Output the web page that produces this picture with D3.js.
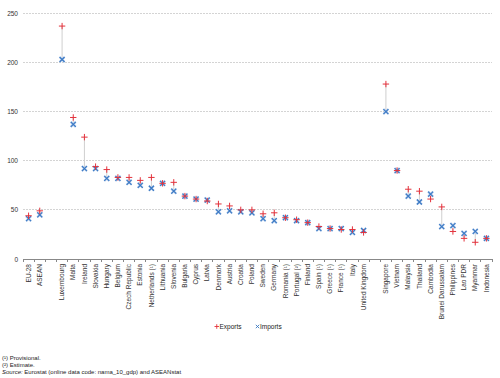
<!DOCTYPE html>
<html>
<head>
<meta charset="utf-8">
<script src="https://cdn.jsdelivr.net/npm/d3@7/dist/d3.min.js"></script>
<style>
  body { margin: 0; background: #fff; }
  svg { display: block; font-family: "Liberation Sans", Arial, sans-serif; }
</style>
</head>
<body>
<svg id="chart" width="500" height="378"></svg>
<script>
const categories = ["EU-28", "ASEAN", "", "Luxembourg", "Malta", "Ireland", "Slovakia", "Hungary", "Belgium",
  "Czech Republic", "Estonia", "Netherlands (¹)", "Lithuania", "Slovenia", "Bulgaria", "Cyprus", "Latvia",
  "Denmark", "Austria", "Croatia", "Poland", "Sweden", "Germany", "Romania (¹)", "Portugal (²)", "Finland",
  "Spain (¹)", "Greece (¹)", "France (¹)", "Italy", "United Kingdom", " ", "Singapore", "Vietnam", "Malaysia",
  "Thailand", "Cambodia", "Brunei Darussalam", "Philippines", "Lao PDR", "Myanmar", "Indonesia"];
const exportsVals = [44, 49, null, 237, 144, 124, 94, 91, 83, 83, 80, 83, 77, 78, 64, 61, 59,
  56, 54, 50, 50, 46, 47, 42, 40, 37, 33, 31, 30, 30, 27, null, 178, 90, 71, 69, 61, 53, 28, 21, 17, 21];
const importsVals = [41, 45, null, 203, 137, 92, 92, 82, 82, 78, 75, 72, 77, 69, 64, 61, 60,
  48, 49, 48, 47, 41, 39, 42, 39, 37, 31, 31, 31, 27, 29, null, 150, 90, 64, 58, 66, 33, 34, 26, 28, 21];
const yTicks = [0, 50, 100, 150, 200, 250];
const seriesNames = ["Exports", "Imports"];
const footnotes = ["(¹) Provisional.", "(²) Estimate."];
const sourceText = "Eurostat (online data code: nama_10_gdp) and ASEANstat";

const svg = d3.select("#chart");
const x = d3.scaleBand().domain(categories).range([23, 492]).padding(0);
const y = d3.scaleLinear().domain([0, 250]).range([259, 13.3]);

const exportColor = "#e3323c";
const importColor = "#3a78c3";

// gridlines
svg.append("g").selectAll("line").data(yTicks.filter(d => d > 0)).join("line")
  .attr("x1", 23).attr("x2", 492)
  .attr("y1", d => y(d)).attr("y2", d => y(d))
  .attr("stroke", "#d4d4d4").attr("stroke-width", 1).attr("stroke-dasharray", "2,1")
  .attr("shape-rendering", "crispEdges");

// y axis labels
const yAxis = d3.axisLeft(y).tickValues(yTicks).tickSize(0).tickPadding(5);
const gy = svg.append("g").attr("transform", "translate(23,0)").call(yAxis);
gy.select(".domain").remove();
gy.selectAll("text").attr("font-size", 6.5).attr("fill", "#333").attr("font-family", "Liberation Sans, Arial, sans-serif");

// x axis
const gx = svg.append("g").attr("transform", `translate(0,${y(0)})`)
  .call(d3.axisBottom(x).tickSize(0).tickFormat(""));
gx.select(".domain").attr("stroke", "#888").attr("shape-rendering", "crispEdges");
gx.selectAll(".tick").remove();
// boundary ticks
const bounds = categories.map(c => x(c)).concat([x(categories[categories.length - 1]) + x.bandwidth()]);
gx.append("g").selectAll("line").data(bounds).join("line")
  .attr("x1", d => d).attr("x2", d => d).attr("y1", 0).attr("y2", 3)
  .attr("stroke", "#888").attr("shape-rendering", "crispEdges");
// labels
gx.append("g").selectAll("text").data(categories).join("text")
  .attr("transform", d => `translate(${x(d) + x.bandwidth() / 2 + 2.2},5) rotate(-90)`)
  .attr("text-anchor", "end")
  .attr("font-size", 6.5).attr("fill", "#333")
  .text(d => d.trim());

const data = categories.map((c, i) => ({ c, e: exportsVals[i], m: importsVals[i] })).filter(d => d.e != null);

// range lines
svg.append("g").selectAll("line").data(data).join("line")
  .attr("x1", d => x(d.c) + x.bandwidth() / 2).attr("x2", d => x(d.c) + x.bandwidth() / 2)
  .attr("y1", d => y(d.e)).attr("y2", d => y(d.m))
  .attr("stroke", "#cfcfcf").attr("stroke-width", 1);

// import markers (x)
const s = 2.5;
const imp = svg.append("g").selectAll("g").data(data).join("g")
  .attr("transform", d => `translate(${x(d.c) + x.bandwidth() / 2},${y(d.m)})`);
imp.append("path").attr("d", `M${-s},${-s}L${s},${s}M${-s},${s}L${s},${-s}`)
  .attr("stroke", "#b5cdec").attr("stroke-width", 2.2).attr("fill", "none");
imp.append("path").attr("d", `M${-s},${-s}L${s},${s}M${-s},${s}L${s},${-s}`)
  .attr("stroke", importColor).attr("stroke-width", 1.1).attr("fill", "none");

// export markers (+)
const p = 3.2;
svg.append("g").selectAll("path").data(data).join("path")
  .attr("d", d => {
    const cx = x(d.c) + x.bandwidth() / 2, cy = y(d.e);
    return `M${cx - p},${cy}L${cx + p},${cy}M${cx},${cy - p}L${cx},${cy + p}`;
  })
  .attr("stroke", exportColor).attr("stroke-width", 1).attr("fill", "none");

// legend
const lg = svg.append("g").attr("font-size", 6.5).attr("fill", "#222");
lg.append("path").attr("d", "M214.5,326.5L219,326.5M216.75,324.2L216.75,328.8")
  .attr("stroke", exportColor).attr("stroke-width", 0.9);
lg.append("text").attr("x", 219.5).attr("y", 329).text(seriesNames[0]);
lg.append("path").attr("d", "M255.8,324.8L259.2,328.2M255.8,328.2L259.2,324.8")
  .attr("stroke", importColor).attr("stroke-width", 0.9);
lg.append("text").attr("x", 260).attr("y", 329).text(seriesNames[1]);

// footnotes
const fn = svg.append("g").attr("font-size", 6).attr("fill", "#222");
fn.append("text").attr("x", 2).attr("y", 360).text(footnotes[0]);
fn.append("text").attr("x", 2).attr("y", 367).text(footnotes[1]);
const src = fn.append("text").attr("x", 2).attr("y", 374);
src.append("tspan").attr("font-style", "italic").text("Source:");
src.append("tspan").text(" " + sourceText);
</script>
</body>
</html>
